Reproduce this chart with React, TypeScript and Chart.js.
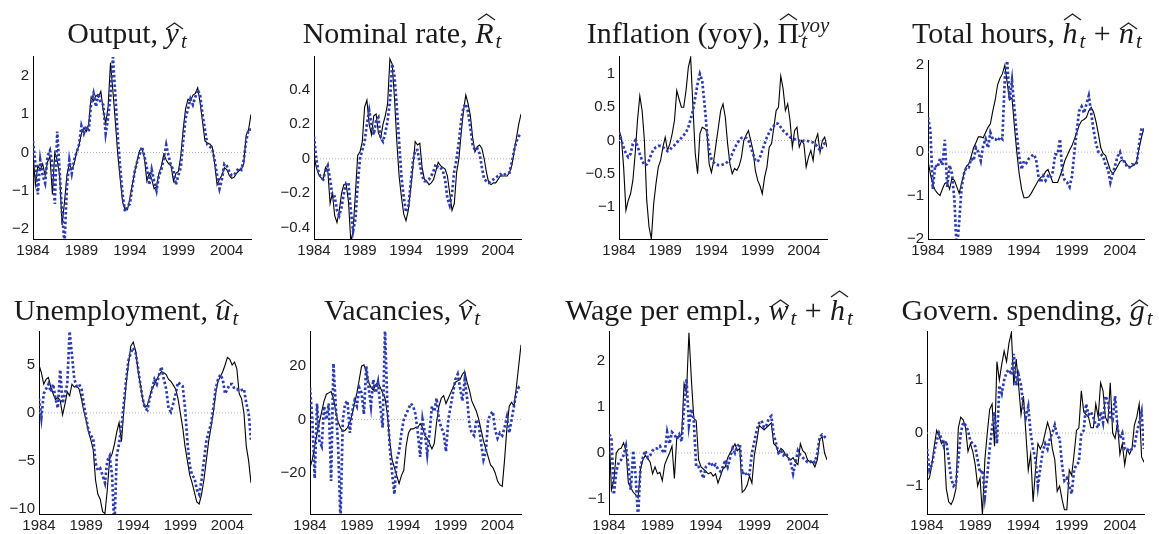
import React, { useEffect, useRef } from "react";
import { Chart, registerables } from "chart.js";
Chart.register(...registerables);

// Quarterly dates 1984Q1 .. 2006Q3
const quarters: number[] = Array.from({ length: 91 }, (_, i) => 1984 + i * 0.25);
const yearTicks = [1984, 1989, 1994, 1999, 2004];

// ---- Output ----
const outputData = [0.0,-0.85,-0.35,-0.45,-0.3,-0.6,-0.25,-0.1,-1.1,0.0,
-0.2,-0.6,-1.9,-1.3,-0.6,-0.3,-0.45,-0.3,0.0,0.2,
0.5,0.65,0.55,0.75,1.45,1.35,1.5,1.45,1.6,1.1,
0.75,1.2,2.35,1.6,0.8,-0.05,-0.7,-1.3,-1.5,-1.5,
-1.2,-0.85,-0.5,-0.2,0.05,0.1,-0.15,-0.75,-0.55,-0.7,
-0.95,-0.9,-0.55,-0.35,-0.05,-0.2,-0.3,-0.35,-0.75,-0.55,
-0.5,-0.1,0.6,1.15,1.4,1.35,1.5,1.55,1.7,1.3,
0.8,0.3,0.25,0.22,0.15,-0.3,-0.85,-0.7,-0.6,-0.4,
-0.45,-0.6,-0.68,-0.65,-0.55,-0.48,-0.45,-0.3,0.45,0.6,1.0];
const outputModel = [0.3,-0.3,-1.1,-0.2,-0.6,-0.8,-0.1,0.05,-0.3,-1.35,
0.55,-0.5,-1.6,-2.4,-0.9,-0.2,-0.55,-0.2,0.0,0.2,
0.7,0.5,0.7,0.55,1.3,1.55,1.2,1.55,1.3,1.25,
0.5,0.9,1.5,2.5,1.5,0.4,-0.4,-1.1,-1.55,-1.4,
-1.35,-0.9,-0.5,-0.25,-0.05,0.15,-0.1,-0.4,-0.85,-0.45,
-0.75,-1.0,-0.6,-0.45,-0.15,0.2,-0.1,-0.35,-0.45,-0.85,
-0.6,-0.4,0.3,0.9,1.15,1.4,1.25,1.45,1.65,1.5,
1.0,0.6,0.2,0.15,0.1,-0.2,-0.6,-0.95,-0.7,-0.3,
-0.35,-0.5,-0.6,-0.6,-0.5,-0.4,-0.45,-0.2,0.3,0.6,0.6];
const outputTicks = [-2, -1, 0, 1, 2];

// ---- Nominal rate ----
const nominalData = [0.02,-0.05,-0.09,-0.11,-0.12,-0.05,-0.07,-0.26,-0.2,-0.33,
-0.37,-0.3,-0.2,-0.15,-0.15,-0.25,-0.48,-0.42,-0.2,0.02,
0.04,0.1,0.3,0.34,0.2,0.14,0.25,0.26,0.15,0.12,
0.2,0.25,0.32,0.58,0.55,0.35,0.1,-0.1,-0.22,-0.32,
-0.36,-0.3,-0.18,-0.05,0.1,0.08,0.09,-0.05,-0.12,-0.13,
-0.15,-0.14,-0.12,-0.07,-0.02,-0.04,-0.05,-0.06,-0.1,-0.2,
-0.3,-0.26,-0.08,0.0,0.15,0.28,0.37,0.32,0.25,0.12,
0.04,0.07,0.08,0.06,0.0,-0.08,-0.14,-0.15,-0.14,-0.14,
-0.12,-0.1,-0.1,-0.1,-0.1,-0.08,-0.04,0.04,0.12,0.2,0.26];
const nominalModel = [0.13,0.0,-0.08,-0.11,-0.12,-0.07,-0.04,-0.12,-0.22,-0.22,
-0.3,-0.33,-0.28,-0.2,-0.14,-0.14,-0.3,-0.42,-0.35,-0.15,
0.0,0.05,0.1,0.2,0.28,0.2,0.14,0.22,0.24,0.12,
0.1,0.15,0.22,0.33,0.55,0.48,0.3,0.1,-0.1,-0.22,
-0.31,-0.28,-0.15,-0.02,0.05,0.05,-0.03,-0.1,-0.13,-0.13,
-0.12,-0.1,-0.07,-0.03,-0.05,-0.05,-0.07,-0.12,-0.23,-0.27,
-0.2,-0.07,0.0,0.1,0.22,0.3,0.32,0.27,0.18,0.08,
0.05,0.06,0.03,-0.05,-0.12,-0.13,-0.14,-0.13,-0.12,-0.11,
-0.1,-0.09,-0.1,-0.09,-0.08,-0.08,-0.02,0.05,0.1,0.13,0.15];
const nominalTicks = [-0.4, -0.2, 0, 0.2, 0.4];

// ---- Inflation (yoy) ----
const inflationData = [0.15,0.05,-0.4,-1.05,-0.9,-0.8,-0.6,-0.2,0.3,0.67,
0.45,0.0,-0.9,-1.3,-1.48,-0.95,-0.65,-0.4,-0.3,-0.1,
0.05,-0.15,-0.05,0.1,0.3,0.75,0.62,0.5,0.5,0.75,
1.1,1.25,0.5,-0.2,-0.5,0.1,0.2,0.18,0.15,-0.35,
-0.48,-0.3,-0.05,0.2,0.45,0.55,0.35,-0.05,-0.35,-0.5,
-0.42,-0.45,-0.38,-0.25,0.0,0.08,0.15,0.0,-0.15,-0.45,
-0.6,-0.68,-0.8,-0.55,-0.4,-0.1,-0.05,0.2,0.45,0.5,
0.97,0.78,0.45,0.55,0.3,-0.1,0.15,0.2,-0.1,0.0,
-0.05,-0.4,-0.25,-0.15,-0.3,0.0,0.1,-0.18,0.0,0.05,-0.1];
const inflationModel = [0.12,0.0,-0.1,-0.2,-0.25,-0.2,-0.05,0.0,-0.08,-0.2,
-0.3,-0.37,-0.36,-0.3,-0.2,-0.13,-0.1,-0.08,-0.08,-0.1,
-0.13,-0.16,-0.14,-0.1,-0.07,-0.03,0.0,0.04,0.08,0.12,
0.2,0.32,0.45,0.65,0.85,1.0,0.9,0.55,0.15,-0.15,
-0.28,-0.33,-0.36,-0.37,-0.37,-0.36,-0.35,-0.32,-0.28,-0.2,
-0.12,-0.05,0.0,0.04,0.05,0.04,0.0,-0.1,-0.2,-0.3,
-0.32,-0.25,-0.15,-0.05,0.05,0.12,0.18,0.22,0.26,0.25,
0.2,0.15,0.12,0.08,0.05,0.03,0.02,0.0,0.0,-0.02,
0.0,0.0,-0.01,-0.02,-0.03,-0.06,-0.1,-0.15,-0.1,-0.04,-0.02];
const inflationTicks = [-1, -0.5, 0, 0.5, 1];

// ---- Total hours ----
const hoursData = [-0.2,-0.5,-0.75,-0.88,-0.95,-1.0,-0.85,-0.72,-0.7,-0.85,
-0.6,-0.65,-0.8,-0.95,-0.7,-0.5,-0.32,-0.27,-0.1,0.1,
0.22,0.35,0.35,0.33,0.45,0.57,0.65,0.95,1.2,1.55,
1.7,1.8,2.0,1.6,1.2,1.25,0.6,0.0,-0.5,-0.85,
-1.05,-1.05,-1.03,-0.95,-0.85,-0.75,-0.65,-0.58,-0.55,-0.45,
-0.4,-0.55,-0.7,-0.7,-0.7,-0.55,-0.4,-0.2,-0.08,0.05,
0.15,0.3,0.45,0.62,0.72,0.75,0.8,0.95,1.03,0.92,
0.7,0.42,0.1,-0.03,-0.08,-0.25,-0.42,-0.5,-0.42,-0.32,
-0.22,-0.18,-0.22,-0.3,-0.35,-0.32,-0.3,-0.2,0.1,0.35,0.55];
const hoursModel = [0.8,0.5,-0.85,-0.3,-0.35,-0.15,-0.3,0.28,-0.8,-0.3,
-0.5,-1.1,-2.3,-1.6,-0.8,-0.5,-0.35,-0.35,-0.15,-0.2,
0.1,0.0,-0.2,0.15,0.3,0.1,0.45,0.3,0.3,0.25,
0.35,0.3,1.7,2.1,1.2,1.65,1.0,0.4,-0.1,-0.4,
-0.2,-0.25,-0.15,-0.1,-0.05,-0.15,-0.55,-0.7,-0.55,-0.65,
-0.55,-0.6,-0.45,-0.05,-0.05,0.3,-0.5,-0.65,-0.7,-0.8,
-0.55,0.0,0.5,0.95,1.05,0.9,1.1,1.3,0.9,0.5,
0.2,0.0,-0.05,-0.1,-0.3,-0.4,-0.7,-0.5,-0.3,-0.1,
0.0,-0.2,-0.22,-0.35,-0.35,-0.28,-0.3,-0.25,0.2,0.55,0.5];
const hoursTicks = [-2, -1, 0, 1, 2];

// ---- Unemployment ----
const unempData = [5.0,4.2,3.0,3.5,3.7,2.7,2.0,1.4,1.6,1.3,
-0.2,0.9,2.2,1.8,3.0,2.7,2.8,2.5,1.5,0.2,
-0.8,-2.0,-2.8,-3.8,-7.0,-8.5,-9.0,-10.3,-10.5,-8.0,
-4.8,-4.3,-3.3,-2.0,-1.0,-3.0,0.2,3.0,5.2,7.0,
7.4,6.5,4.5,3.0,1.5,0.6,0.8,1.7,2.5,3.0,
3.5,4.0,4.3,4.2,4.0,3.5,3.3,2.9,2.5,1.5,
0.0,-1.5,-3.5,-5.0,-6.5,-7.3,-8.3,-9.3,-9.5,-8.5,
-7.0,-5.0,-3.0,-1.5,0.0,2.0,3.3,3.8,4.3,5.0,
5.8,5.6,5.0,5.3,4.6,2.0,1.5,0.0,-3.5,-5.0,-7.3];
const unempModel = [1.5,-0.5,2.0,2.5,3.0,2.2,3.0,1.5,0.5,4.5,
1.0,2.0,3.0,8.5,6.0,3.5,2.8,3.0,2.5,1.0,
-0.5,-1.8,-2.4,-2.6,-5.2,-6.0,-5.8,-6.5,-7.3,-5.0,
-4.5,-6.5,-12.0,-4.5,-3.2,-1.5,1.0,3.5,5.5,6.3,
6.8,6.3,4.8,3.0,1.5,0.5,0.3,1.5,2.5,3.5,
3.0,4.0,4.8,3.5,2.5,0.5,0.1,1.0,2.0,3.2,
3.0,2.8,0.5,-3.0,-5.5,-6.5,-6.8,-8.0,-8.5,-7.0,
-5.0,-3.0,-2.0,-1.2,0.5,2.5,3.5,4.0,3.5,2.0,
2.5,3.0,3.0,2.5,2.5,2.3,2.4,2.5,1.0,0.0,-2.8];
const unempTicks = [-10, -5, 0, 5];

// ---- Vacancies ----
const vacData = [-18,-15,-10,-5,-1,3,7,9.5,10,10.5,
8,3,-1,-3,-4.5,-4,-3,-1,2,6,
10,15,20,20.5,18,14,12,11,13,14,
12,10,8,2,-8,-15,-18,-21,-24,-21,
-19,-10,-5,-3.5,-3.5,-3,-3,-1.5,-3,-6,
-7,-9,-11,-9,-1,5,8,9,6,8,
10,12,14,14.5,15,17,18,14,11,7,
5,3,0,-4,-8,-11,-14,-17,-18,-20,
-23,-24.5,-25,-15,-3,5,6.5,5,12,20,28];
const vacModel = [12,0,-22,6,-8,-10,5,0,6,-23,
21,5,-10,-38,0,6,7,-5,3,7,
5,12,10,2,20,12,5,15,10,14,
5,-3,34,5,-10,-20,-28,-15,-12,-5,
0,2,4,6,5,2,-5,-14,0,-5,
-13,-5,5,3,8,0,-3,-5,-12,0,
5,10,15,17,12,7,15,8,-2,-5,
-6,0,-2,-9,-15,-12,0,2,3,-4,
-7,-5,-6,-3,1,-5,0,5,10,12,11];
const vacTicks = [-20, 0, 20];

// ---- Wage per employee ----
const wageData = [0.5,-0.8,-0.6,0.0,0.08,0.1,0.22,0.05,-0.65,-0.75,
-0.85,-0.9,-0.97,-0.35,-0.15,-0.05,-0.12,-0.2,-0.45,-0.3,
-0.45,-0.42,-0.6,-0.25,-0.12,0.0,0.15,-0.55,0.35,0.35,
0.4,1.5,1.3,2.6,1.6,0.75,0.7,-0.15,-0.3,-0.35,
-0.4,-0.45,-0.42,-0.5,-0.45,-0.65,-0.5,-0.35,-0.3,-0.1,
0.0,0.1,0.2,0.05,0.1,-0.85,-0.8,-0.7,-0.5,-0.65,
-0.05,0.25,0.6,0.55,0.5,0.55,0.6,0.65,0.2,0.15,
0.0,0.1,0.05,-0.05,-0.1,-0.15,-0.1,-0.2,-0.25,0.2,
0.05,0.0,-0.15,-0.2,-0.2,-0.3,-0.15,0.3,0.35,0.0,-0.15];
const wageModel = [0.4,0.35,-0.9,-0.4,-0.2,-0.15,-0.05,0.15,-0.3,-0.8,
0.05,-0.5,-1.4,-0.3,-0.1,0.05,-0.1,-0.05,0.05,0.1,
0.1,0.15,0.05,0.0,0.45,0.2,0.45,0.4,0.3,0.4,
0.25,1.0,1.6,0.6,0.95,0.7,-0.3,-0.3,-0.4,-0.55,
-0.3,-0.25,-0.2,-0.3,-0.25,-0.35,-0.4,-0.3,-0.15,-0.3,
-0.1,0.1,0.0,0.15,0.2,-0.45,-0.4,-0.5,-0.45,0.0,
0.25,0.5,0.65,0.7,0.55,0.6,0.75,0.8,0.4,0.2,
0.0,0.05,-0.05,0.0,-0.1,-0.2,-0.45,-0.2,0.05,-0.05,
-0.1,-0.15,-0.2,-0.2,-0.15,-0.2,0.0,0.35,0.4,0.35,0.3];
const wageTicks = [-1, 0, 1, 2];

// ---- Government spending ----
const govData = [-0.9,-0.85,-0.6,-0.25,0.05,-0.05,-0.2,-0.15,-1.05,-1.3,
-1.35,-1.25,-1.05,0.1,0.3,0.25,0.1,-0.35,-0.2,-0.35,
-0.6,-1.0,-0.85,-1.55,-0.5,0.0,0.45,0.55,-0.25,1.35,
1.0,1.3,1.55,1.35,1.7,1.9,0.9,1.4,0.9,0.35,
0.7,0.0,-0.7,-0.4,-1.3,-0.7,-0.2,-0.3,-0.2,0.0,
0.2,0.05,-0.3,-0.5,-1.1,-1.0,-1.25,-1.45,-1.45,-0.7,
-0.8,-0.4,0.05,0.1,0.8,0.4,0.35,0.3,0.1,0.1,
0.55,0.3,0.95,0.8,0.3,0.2,0.95,0.0,-0.1,0.2,
-0.4,-0.2,-0.6,-0.3,-0.4,-0.3,0.15,0.3,0.55,-0.45,-0.55];
const govModel = [-0.3,-0.7,-0.6,-0.35,-0.15,0.0,-0.1,-0.25,-0.15,-0.5,
-0.85,-1.0,-0.95,-0.5,0.0,0.2,0.15,0.05,-0.15,-0.2,
-0.25,-0.5,-0.75,-0.7,-1.2,-0.8,-0.3,0.1,0.4,-0.2,
0.9,0.75,1.0,1.15,1.2,1.1,1.5,0.9,1.1,0.9,
0.5,0.3,0.5,0.0,-0.3,-0.5,-1.0,-0.65,-0.35,-0.2,
-0.3,-0.1,0.0,0.15,-0.05,-0.1,-0.6,-0.9,-0.85,-1.0,
-1.15,-0.7,-0.6,-0.55,0.0,0.05,0.55,0.35,0.4,0.3,
0.15,0.1,0.4,0.2,0.7,0.6,0.3,0.25,0.7,0.1,
-0.1,0.0,-0.3,-0.3,-0.35,-0.3,-0.25,0.0,0.2,0.4,-0.3];
const govTicks = [-1, 0, 1];

const BLUE = "#2b3caf";
const YW = 46;
const XH = 26;
const PT = 12;
const PR = 14;
const TICK_FONT = "'Liberation Sans', Arial, Helvetica, sans-serif";
const TITLE_FONT = "'Liberation Serif', 'Times New Roman', serif";
const TITLE_SIZE = 30;
const TITLE_BASE = TITLE_SIZE * 0.8375;

function Hat({ ch, tall = false, upright = false }: { ch: string; tall?: boolean; upright?: boolean }) {
  return (
    <span style={{ position: "relative", display: "inline-block", fontStyle: upright ? "normal" : "italic", marginRight: 1 }}>
      {ch}
      <svg
        width={19}
        height={8}
        viewBox="0 0 19 8"
        style={{ position: "absolute", left: "50%", marginLeft: upright ? -9.5 : -7.5, top: tall ? -5 : 4 }}
      >
        <path d="M1 7 L9.5 1 L18 7" stroke="#222" strokeWidth={1.4} fill="none" />
      </svg>
    </span>
  );
}

function Sub({ t }: { t: string }) {
  return (
    <span style={{ fontSize: "0.7em", fontStyle: "italic", position: "relative", top: "0.25em", marginLeft: 1 }}>{t}</span>
  );
}

function SupSub({ sup, sub }: { sup: string; sub: string }) {
  return (
    <span style={{ position: "relative", display: "inline-block", fontSize: "0.7em", fontStyle: "italic", lineHeight: 1 }}>
      <span style={{ position: "relative", top: "-0.5em" }}>{sup}</span>
      <span style={{ position: "absolute", left: 1, top: "0.25em" }}>{sub}</span>
    </span>
  );
}

function Plus() {
  return <span style={{ display: "inline-block", margin: "0 0.28em" }}>+</span>;
}

type PanelDef = {
  title: React.ReactNode;
  black: number[];
  blue: number[];
  yTicks: number[];
  yMin: number;
  yMax: number;
  L: number;
  R: number;
  T: number;
  B: number;
  tc: number;
  tb: number;
};

const panels: PanelDef[] = [
  { title: <>Output, <Hat ch="y" /><Sub t="t" /></>, black: outputData, blue: outputModel, yTicks: outputTicks, yMin: -2.27, yMax: 2.53, L: 33, R: 251, T: 55, B: 239, tc: 127, tb: 43 },
  { title: <>Nominal rate, <Hat ch="R" tall /><Sub t="t" /></>, black: nominalData, blue: nominalModel, yTicks: nominalTicks, yMin: -0.466, yMax: 0.597, L: 314, R: 521, T: 55, B: 239, tc: 402, tb: 43 },
  { title: <>Inflation (yoy), <Hat ch="Π" tall upright /><SupSub sup="yoy" sub="t" /></>, black: inflationData, blue: inflationModel, yTicks: inflationTicks, yMin: -1.48, yMax: 1.27, L: 619, R: 827, T: 55, B: 239, tc: 708, tb: 43 },
  { title: <>Total hours, <Hat ch="h" tall /><Sub t="t" /><Plus /><Hat ch="n" /><Sub t="t" /></>, black: hoursData, blue: hoursModel, yTicks: hoursTicks, yMin: -2, yMax: 2.12, L: 928, R: 1144, T: 59, B: 239, tc: 1027, tb: 43 },
  { title: <>Unemployment, <Hat ch="u" /><Sub t="t" /></>, black: unempData, blue: unempModel, yTicks: unempTicks, yMin: -10.55, yMax: 8.55, L: 39, R: 251, T: 330, B: 514, tc: 126, tb: 320 },
  { title: <>Vacancies, <Hat ch="v" /><Sub t="t" /></>, black: vacData, blue: vacModel, yTicks: vacTicks, yMin: -35.4, yMax: 33.2, L: 310, R: 521, T: 330, B: 514, tc: 402, tb: 320 },
  { title: <>Wage per empl., <Hat ch="w" /><Sub t="t" /><Plus /><Hat ch="h" tall /><Sub t="t" /></>, black: wageData, blue: wageModel, yTicks: wageTicks, yMin: -1.32, yMax: 2.64, L: 609, R: 827, T: 330, B: 514, tc: 709, tb: 320 },
  { title: <>Govern. spending, <Hat ch="g" /><Sub t="t" /></>, black: govData, blue: govModel, yTicks: govTicks, yMin: -1.53, yMax: 1.93, L: 927, R: 1144, T: 330, B: 514, tc: 1027, tb: 320 },
];

function fmtY(v: number | string) {
  const n = Number(v);
  const s = String(Math.round(Math.abs(n) * 1000) / 1000);
  return n < 0 ? "\u2212" + s : s;
}

function Panel({ p }: { p: PanelDef }) {
  const ref = useRef<HTMLCanvasElement>(null);
  const w = YW + (p.R - p.L) + PR;
  const h = PT + (p.B - p.T) + XH;
  useEffect(() => {
    const canvas = ref.current!;
    const chart = new Chart(canvas, {
      type: "line",
      data: {
        datasets: [
          {
            data: quarters.map((x, i) => ({ x, y: p.blue[i] })),
            borderColor: BLUE,
            borderWidth: 2.7,
            borderDash: [2.5, 2.3],
            borderCapStyle: "butt",
            pointRadius: 0,
            tension: 0,
            order: 1,
          },
          {
            data: quarters.map((x, i) => ({ x, y: p.black[i] })),
            borderColor: "#000",
            borderWidth: 1.1,
            pointRadius: 0,
            tension: 0,
            order: 2,
          },
          {
            data: [
              { x: quarters[0], y: 0 },
              { x: quarters[quarters.length - 1], y: 0 },
            ],
            borderColor: "#b5b5b5",
            borderWidth: 1,
            borderDash: [1, 2],
            pointRadius: 0,
            order: 3,
          },
        ],
      },
      options: {
        animation: false,
        responsive: false,
        events: [],
        layout: { padding: { top: PT, right: PR, left: 0, bottom: 0 } },
        plugins: { legend: { display: false }, tooltip: { enabled: false }, title: { display: false } },
        scales: {
          x: {
            type: "linear",
            min: quarters[0],
            max: quarters[quarters.length - 1],
            afterBuildTicks: (s: any) => {
              s.ticks = yearTicks.map((v) => ({ value: v }));
            },
            afterFit: (s: any) => {
              s.height = XH;
            },
            ticks: {
              autoSkip: false,
              maxRotation: 0,
              padding: 3,
              color: "#222",
              font: { family: TICK_FONT, size: 15 },
              callback: (v: any) => String(v),
            },
            grid: { display: false, drawTicks: false },
            border: { display: true, color: "#000", width: 1 },
          },
          y: {
            type: "linear",
            min: p.yMin,
            max: p.yMax,
            afterBuildTicks: (s: any) => {
              s.ticks = p.yTicks.map((v) => ({ value: v }));
            },
            afterFit: (s: any) => {
              s.width = YW;
            },
            ticks: {
              padding: 4,
              color: "#222",
              font: { family: TICK_FONT, size: 15 },
              callback: (v: any) => fmtY(v),
            },
            grid: { display: false, drawTicks: false },
            border: { display: true, color: "#000", width: 1 },
          },
        },
      },
    } as any);
    return () => chart.destroy();
  }, []);
  return (
    <>
      <canvas
        ref={ref}
        width={w}
        height={h}
        style={{ position: "absolute", left: p.L - YW, top: p.T - PT, width: w, height: h }}
      />
      <div
        style={{
          position: "absolute",
          left: p.tc - 200,
          width: 400,
          top: p.tb - TITLE_BASE,
          textAlign: "center",
          fontFamily: TITLE_FONT,
          fontSize: TITLE_SIZE,
          lineHeight: TITLE_SIZE + "px",
          whiteSpace: "nowrap",
          color: "#1a1a1a",
        }}
      >
        {p.title}
      </div>
    </>
  );
}

export default function App() {
  return (
    <div
      style={{
        position: "absolute",
        left: 0,
        top: 0,
        width: 1159,
        height: 534,
        background: "#fff",
        overflow: "hidden",
      }}
    >
      {panels.map((p, i) => (
        <Panel key={i} p={p} />
      ))}
    </div>
  );
}
